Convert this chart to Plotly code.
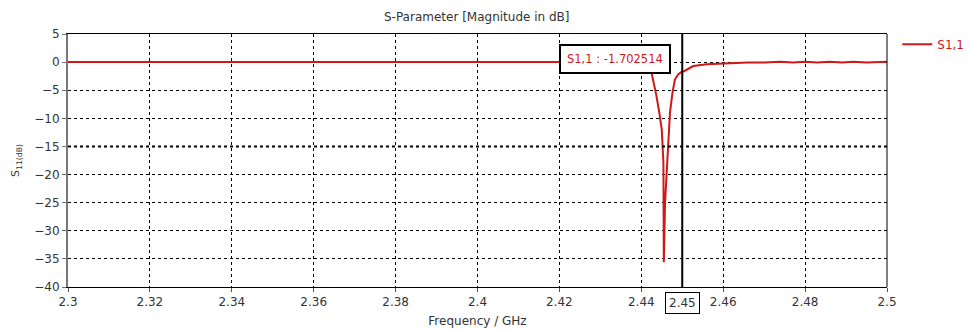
import plotly.graph_objects as go

# ---- data ----
freq_ghz = [2.30, 2.35, 2.40, 2.4418, 2.4425, 2.4432, 2.4437, 2.4444, 2.4450, 2.4454, 2.4455,
            2.4458, 2.4462, 2.4466, 2.4470, 2.4476, 2.4482, 2.4490, 2.4498, 2.4502, 2.4527, 2.4560,
            2.4600, 2.4624, 2.466, 2.470, 2.4739, 2.477, 2.480, 2.483,
            2.486, 2.489, 2.4917, 2.495, 2.498, 2.500]
s11_db = [0.0, 0.0, 0.0, 0.0, -1.9, -4.0, -6.0, -9.0, -12.0, -17.9, -35.6,
          -25.0, -19.0, -13.0, -9.0, -5.5, -3.1, -2.2, -1.75, -1.70, -0.7, -0.4,
          -0.25, -0.1, -0.05, -0.05, 0.08, -0.05, 0.08, -0.05,
          0.08, -0.05, 0.08, -0.05, 0.08, 0.05]
x_ticks = [2.3, 2.32, 2.34, 2.36, 2.38, 2.4, 2.42, 2.44, 2.46, 2.48, 2.5]
x_tick_labels = ["2.3", "2.32", "2.34", "2.36", "2.38", "2.4", "2.42", "2.44", "2.46", "2.48", "2.5"]
y_ticks = [5, 0, -5, -10, -15, -20, -25, -30, -35, -40]
marker_freq = 2.45
marker_value = -1.702514
limit_db = -15
series_name = "S1,1"

red = "#d01818"
font_family = "DejaVu Sans, Verdana, sans-serif"

fig = go.Figure()
fig.add_trace(go.Scatter(x=freq_ghz, y=s11_db, mode="lines", name=series_name,
                         line=dict(color=red, width=2)))

fig.update_layout(
    width=969, height=331,
    margin=dict(l=68, r=82, t=34, b=44, autoexpand=False),
    paper_bgcolor="white", plot_bgcolor="white",
    font=dict(family=font_family, size=12, color="#333"),
    title=dict(text="S-Parameter [Magnitude in dB]", x=0.492, xanchor="center",
               y=0.95, yanchor="middle", font=dict(size=12, color="#333")),
    showlegend=True,
    legend=dict(xref="container", yref="container", x=0.926, y=0.866,
                xanchor="left", yanchor="middle", itemwidth=30,
                font=dict(color=red, size=12), bgcolor="rgba(0,0,0,0)",
                tracegroupgap=0),
    xaxis=dict(range=[2.3, 2.5], tickvals=x_ticks, ticktext=x_tick_labels,
               automargin=False,
               showgrid=True, gridcolor="black", griddash="3px,3px", gridwidth=1,
               showline=True, linecolor="black", linewidth=1, mirror=True,
               ticks="outside", ticklen=4, tickcolor="#555",
               zeroline=False,
               title=dict(text="Frequency / GHz", standoff=8, font=dict(size=12))),
    yaxis=dict(range=[-40, 5], tickvals=y_ticks, automargin=False,
               showgrid=True, gridcolor="black", griddash="3px,3px", gridwidth=1,
               showline=True, linecolor="#777", linewidth=2,
               ticks="outside", ticklen=4, tickcolor="#777",
               zeroline=False,
               title=dict(text="S<sub>11</sub><sub>(dB)</sub>", standoff=12,
                          font=dict(size=11))),
)

# right border
fig.add_shape(type="line", xref="paper", yref="paper", x0=1, x1=1, y0=0, y1=1,
              line=dict(color="black", width=1))
# limit line
fig.add_shape(type="line", xref="paper", yref="y", x0=0, x1=1, y0=limit_db, y1=limit_db,
              line=dict(color="black", width=2, dash="dot"))
# marker line
fig.add_shape(type="line", xref="x", yref="paper", x0=marker_freq, x1=marker_freq,
              y0=0, y1=1, line=dict(color="black", width=2))
# marker label box
fig.add_annotation(x=marker_freq - 0.0027, y=0.5, xref="x", yref="y",
                   xanchor="right", yanchor="middle", showarrow=False,
                   text=f"{series_name} : {marker_value:.6f}",
                   font=dict(color=red, size=11.5), bgcolor="white",
                   bordercolor="black", borderwidth=2, borderpad=6)
# boxed tick label at marker frequency
fig.add_annotation(x=marker_freq, y=0, xref="x", yref="paper", yshift=-5,
                   xanchor="center", yanchor="top", showarrow=False,
                   text=f"{marker_freq:.2f}", font=dict(size=12, color="#333"),
                   bgcolor="white", bordercolor="black", borderwidth=1, borderpad=3)

fig.write_html("out.html")
